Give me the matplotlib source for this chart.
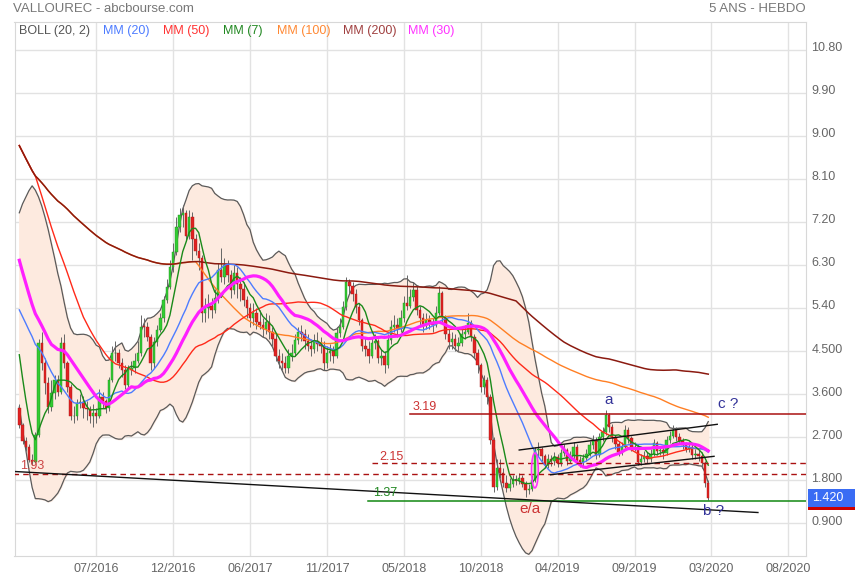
import numpy as np
import pandas as pd
import matplotlib
matplotlib.use("Agg")
import matplotlib.pyplot as plt
import matplotlib.transforms as mtrans
from matplotlib.patches import Ellipse, Rectangle

plt.rcParams['font.family'] = ['Liberation Sans', 'DejaVu Sans']

# weekly closes before the visible window (only feed the moving averages)
pre_closes = [15.0, 14.9, 14.7, 14.5, 14.2, 14.0, 13.8, 13.6, 13.4, 13.2, 13.0, 12.8, 12.6, 12.3, 12.0,
              9.9, 9.5, 9.1, 8.8, 8.5, 8.3, 8.1, 7.9, 7.6, 7.05,
              5.4, 5.3, 5.1, 4.9, 6.0, 6.1, 6.2, 6.3, 6.3, 6.3, 6.2, 6.1, 6.05,
              6.0, 5.6, 5.0, 4.4, 3.7, 3.3]

closes = [
    2.95, 2.62, 2.50, 2.22, 2.18, 2.74, 4.66, 4.24, 3.83, 3.33,
    3.62, 3.90, 3.65, 4.66, 4.24, 3.75, 3.13, 3.15, 3.41, 3.43,
    3.30, 3.28, 3.13, 3.20, 3.15, 3.54, 3.45, 3.30, 3.89, 4.45,
    4.45, 4.25, 4.10, 3.79, 4.10, 4.15, 4.30, 4.45, 5.01, 5.00,
    4.80, 4.24, 4.69, 4.94, 5.20, 5.57, 5.84, 6.26, 6.57, 7.10,
    7.35, 7.38, 6.90, 7.30, 6.85, 6.60, 6.45, 5.29, 5.40, 5.45,
    5.35, 5.60, 6.20, 6.05, 6.30, 6.10, 5.78, 6.13, 5.90, 5.80,
    5.57, 5.40, 5.20, 5.30, 5.10, 5.05, 4.95, 5.10, 4.90, 4.75,
    4.40, 4.30, 4.25, 4.15, 4.40, 4.45, 4.73, 4.90, 4.85, 4.70,
    4.60, 4.55, 4.70, 4.65, 4.60, 4.24, 4.45, 4.50, 4.40, 4.87,
    5.00, 5.42, 5.94, 5.85, 5.70, 5.42, 5.15, 4.60, 4.55, 4.40,
    4.66, 4.70, 4.35, 4.40, 4.20, 4.73, 5.00, 5.05, 4.95, 5.20,
    5.50, 5.45, 5.63, 5.78, 5.36, 5.20, 5.05, 5.15, 5.10, 5.05,
    5.30, 5.71, 5.20, 4.85, 4.69, 4.75, 4.60, 4.66, 4.85, 4.90,
    5.08, 4.80, 4.45, 4.20, 3.75, 3.90, 3.54, 2.64, 1.65, 2.05,
    1.95, 1.74, 1.63, 1.72, 1.80, 1.78, 1.85, 1.72, 1.59, 1.62,
    1.80, 2.43, 2.45, 2.30, 2.11, 2.25, 2.20, 2.28, 2.15, 2.36,
    2.43, 2.20, 2.30, 2.50, 2.22, 2.18, 2.26, 2.35, 2.53, 2.64,
    2.32, 2.70, 2.80, 3.16, 2.91, 2.70, 2.55, 2.39, 2.50, 2.85,
    2.68, 2.47, 2.50, 2.18, 2.25, 2.30, 2.25, 2.35, 2.57, 2.40,
    2.42, 2.36, 2.64, 2.72, 2.85, 2.70, 2.62, 2.53, 2.45, 2.50,
    2.32, 2.35, 2.30, 2.15, 1.74, 1.42]

highs = [
    3.40, 3.00, 2.70, 2.55, 2.35, 2.80, 4.75, 4.90, 4.35, 3.95,
    3.90, 4.00, 4.00, 4.80, 4.85, 4.30, 3.80, 3.35, 3.50, 3.60,
    3.55, 3.45, 3.35, 3.40, 3.30, 3.70, 3.65, 3.50, 3.95, 4.60,
    4.70, 4.55, 4.35, 4.20, 4.20, 4.30, 4.45, 4.70, 5.25, 5.20,
    5.10, 4.85, 4.80, 5.05, 5.30, 5.65, 6.00, 6.40, 6.75, 7.30,
    7.50, 7.55, 7.45, 7.45, 7.40, 6.95, 6.75, 6.50, 5.60, 5.70,
    5.60, 5.80, 6.35, 6.65, 6.45, 6.40, 6.20, 6.30, 6.25, 6.05,
    5.95, 5.65, 5.50, 5.50, 5.40, 5.35, 5.20, 5.30, 5.25, 5.00,
    4.85, 4.55, 4.45, 4.40, 4.55, 4.65, 4.85, 5.00, 5.05, 4.95,
    4.85, 4.75, 4.85, 4.90, 4.80, 4.70, 4.60, 4.65, 4.60, 5.00,
    5.20, 5.55, 6.05, 6.00, 5.95, 5.80, 5.50, 5.20, 4.80, 4.70,
    4.80, 4.85, 4.75, 4.55, 4.50, 4.85, 5.15, 5.25, 5.20, 5.35,
    5.65, 6.10, 5.80, 5.95, 5.85, 5.45, 5.30, 5.30, 5.25, 5.20,
    5.45, 5.85, 5.75, 5.25, 4.95, 4.90, 4.85, 4.80, 5.00, 5.05,
    5.30, 5.15, 4.85, 4.55, 4.25, 4.00, 3.95, 3.60, 2.70, 2.25,
    2.25, 2.05, 1.90, 1.85, 1.90, 1.90, 1.95, 1.90, 1.78, 1.72,
    1.90, 2.50, 2.60, 2.50, 2.35, 2.35, 2.32, 2.38, 2.35, 2.45,
    2.55, 2.48, 2.40, 2.60, 2.55, 2.30, 2.35, 2.45, 2.62, 2.75,
    2.70, 2.78, 2.92, 3.26, 3.20, 2.98, 2.75, 2.62, 2.60, 2.95,
    2.92, 2.72, 2.60, 2.55, 2.35, 2.40, 2.38, 2.45, 2.65, 2.62,
    2.52, 2.50, 2.72, 2.82, 2.95, 2.90, 2.78, 2.68, 2.60, 2.60,
    2.55, 2.45, 2.42, 2.38, 2.20, 1.80]

lows = [
    2.88, 2.55, 2.40, 2.18, 2.12, 2.15, 2.70, 4.10, 3.60, 3.20,
    3.25, 3.50, 3.55, 3.60, 4.15, 3.65, 3.05, 3.00, 3.05, 3.30,
    3.10, 3.05, 3.00, 2.90, 3.00, 3.10, 3.30, 3.20, 3.25, 3.85,
    4.30, 4.15, 3.95, 3.70, 3.75, 4.00, 4.05, 4.25, 4.40, 4.80,
    4.70, 4.10, 4.15, 4.60, 4.90, 5.10, 5.50, 5.80, 6.15, 6.50,
    7.00, 7.10, 6.80, 6.85, 6.40, 6.50, 6.20, 5.10, 5.10, 5.20,
    5.20, 5.30, 5.50, 5.95, 5.90, 5.95, 5.60, 5.70, 5.60, 5.55,
    5.45, 5.20, 5.00, 5.05, 4.95, 4.95, 4.80, 4.85, 4.75, 4.60,
    4.30, 4.15, 4.10, 4.05, 4.05, 4.30, 4.40, 4.65, 4.70, 4.55,
    4.50, 4.40, 4.45, 4.50, 4.45, 4.10, 4.15, 4.30, 4.25, 4.35,
    4.80, 4.95, 5.35, 5.70, 5.55, 5.30, 5.05, 4.50, 4.40, 4.25,
    4.35, 4.55, 4.25, 4.20, 4.05, 4.15, 4.65, 4.90, 4.80, 4.90,
    5.10, 5.35, 5.40, 5.55, 5.25, 5.05, 4.90, 4.95, 4.95, 4.90,
    5.00, 5.25, 5.10, 4.75, 4.55, 4.55, 4.50, 4.50, 4.60, 4.75,
    4.85, 4.70, 4.35, 4.05, 3.65, 3.60, 3.40, 2.55, 1.55, 1.60,
    1.85, 1.65, 1.55, 1.58, 1.65, 1.70, 1.72, 1.65, 1.45, 1.50,
    1.58, 1.75, 2.30, 2.20, 2.05, 2.05, 2.10, 2.12, 2.08, 2.10,
    2.30, 2.12, 2.15, 2.25, 2.15, 2.08, 2.10, 2.20, 2.30, 2.45,
    2.25, 2.28, 2.62, 2.75, 2.80, 2.60, 2.45, 2.30, 2.32, 2.45,
    2.58, 2.40, 2.40, 2.12, 2.12, 2.18, 2.15, 2.18, 2.30, 2.32,
    2.32, 2.25, 2.32, 2.58, 2.68, 2.62, 2.55, 2.45, 2.38, 2.38,
    2.25, 2.25, 2.20, 2.05, 1.65, 1.38]

tick_labels = ["07/2016", "12/2016", "06/2017", "11/2017", "05/2018",
               "10/2018", "04/2019", "09/2019", "03/2020", "08/2020"]
y_ticks = [0.9, 1.8, 2.7, 3.6, 4.5, 5.4, 6.3, 7.2, 8.1, 9.0, 9.9, 10.8]
y_tick_labels = ["0.900", "1.800", "2.700", "3.600", "4.500", "5.40",
                 "6.30", "7.20", "8.10", "9.00", "9.90", "10.80"]

last_price = 1.42
level_319 = 3.19
level_215 = 2.15
level_193 = 1.93
level_137 = 1.37

n_pre = len(pre_closes)
full = pd.Series(pre_closes + closes)
x = np.arange(len(closes))
# weekly open taken as the previous close
opens = [pre_closes[-1]] + closes[:-1]


def mm(n):
    return full.rolling(n, min_periods=1).mean().to_numpy()[n_pre:]


boll_mid = mm(20)
boll_sd = full.rolling(20, min_periods=1).std(ddof=0).to_numpy()[n_pre:]
boll_up = boll_mid + 2 * boll_sd
boll_dn = boll_mid - 2 * boll_sd

W, H = 855, 580
fig = plt.figure(figsize=(W / 100, H / 100), dpi=100)
ax = fig.add_axes([14.5 / W, 1 - 556 / H, (806 - 14.5) / W, (556 - 22) / H])
ax.set_xlim(-1.5, 245.5)
ax.set_ylim(0.21, 11.385)

for s in ax.spines.values():
    s.set_color("#d8d8d8")
ax.grid(True, color="#e2e2e2", lw=1)
ax.set_axisbelow(True)

ax.set_xticks([24 * k for k in range(1, 11)])
ax.set_xticklabels(tick_labels)
ax.yaxis.tick_right()
ax.set_yticks(y_ticks)
ax.set_yticklabels(y_tick_labels)
ax.tick_params(length=0, colors="#666666", labelsize=9)
ax.tick_params(axis="x", pad=5)
ax.tick_params(axis="y", pad=4)
lift = mtrans.ScaledTranslation(0, 3 / 100, fig.dpi_scale_trans)
for lab in ax.get_yticklabels():
    lab.set_transform(lab.get_transform() + lift)

# bollinger
ax.fill_between(x, boll_dn, boll_up, color="#fdeadf", zorder=1)
ax.plot(x, boll_up, color="#5a5a5a", lw=0.9, zorder=2)
ax.plot(x, boll_dn, color="#5a5a5a", lw=0.9, zorder=2)

# candles
for i in x:
    o, c = opens[i], closes[i]
    up = c >= o
    ax.vlines(i, lows[i], highs[i], color="#666666", lw=0.7, zorder=3)
    ax.bar(i, max(abs(c - o), 0.015), bottom=min(o, c), width=0.75,
           color="#33cc33" if up else "#e02222",
           edgecolor="#1e8c1e" if up else "#a81818", lw=0.3, zorder=4)

# moving averages
ax.plot(x, mm(100), color="#ff7f24", lw=1.0, zorder=5)
ax.plot(x, mm(50), color="#ff2a1a", lw=1.0, zorder=5)
ax.plot(x, mm(200), color="#8b1a10", lw=1.1, zorder=5)
ax.plot(x, mm(20), color="#4d7cff", lw=1.0, zorder=5)
ax.plot(x, mm(7), color="#1a8a1a", lw=1.0, zorder=5)
ax.plot(x, mm(30), color="#ff1fff", lw=2.3, zorder=6)

# drawn levels and trend lines
xr = 250
ax.plot([121.9, xr], [level_319, level_319], color="#aa1111", lw=1.1, zorder=7)
ax.plot([110, xr], [level_215, level_215], color="#aa1111", lw=1.0, ls=(0, (4, 3)), zorder=7)
ax.plot([-2, xr], [level_193, level_193], color="#aa1111", lw=1.0, ls=(0, (4, 3)), zorder=7)
ax.plot([108.8, xr], [level_137, level_137], color="#118811", lw=1.1, zorder=7)
ax.plot([-1.34, 230.5], [1.978, 1.120], color="#111111", lw=1.0, zorder=7)
ax.plot([156.0, 217.8], [2.428, 2.966], color="#111111", lw=1.0, zorder=7)
ax.plot([165.8, 216.8], [1.911, 2.296], color="#111111", lw=1.0, zorder=7)
ax.add_patch(Ellipse((160.9, 2.0), 2.1, 0.73, fill=False, edgecolor="#ff33ff", lw=1.2, zorder=7))

ax.text(122.8, 3.33, "3.19", color="#cc3333", fontsize=9, va="center", zorder=8)
ax.text(112.5, 2.28, "2.15", color="#cc3333", fontsize=9, va="center", zorder=8)
ax.text(0.2, 2.09, "1.93", color="#cc4444", fontsize=9, va="center", zorder=8)
ax.text(110.4, 1.53, "1.37", color="#228822", fontsize=9, va="center", zorder=8)
ax.text(184, 3.47, "a", color="#333399", fontsize=11, ha="center", va="center", zorder=8)
ax.text(221.1, 3.39, "c ?", color="#333399", fontsize=11, ha="center", va="center", zorder=8)
ax.text(216.8, 1.15, "b ?", color="#333399", fontsize=11, ha="center", va="center", zorder=8)
ax.text(159.3, 1.19, "e/a", color="#cc3333", fontsize=11, ha="center", va="center", zorder=8)

# header texts
fig.text(13 / W, 1 - 9 / H, "VALLOUREC - abcbourse.com", color="#777777", fontsize=9.5, va="center")
fig.text(806 / W, 1 - 9 / H, "5 ANS - HEBDO", color="#777777", fontsize=9.5, va="center", ha="right")

legend = [("BOLL (20, 2)", "#555555", 19), ("MM (20)", "#4d7cff", 103),
          ("MM (50)", "#ff3333", 163), ("MM (7)", "#228822", 223),
          ("MM (100)", "#ff8833", 277), ("MM (200)", "#a04040", 343),
          ("MM (30)", "#ff33ff", 408)]
for label, col, px in legend:
    fig.text(px / W, 1 - 31 / H, label, color=col, fontsize=9, va="center")

# last price tag
fig.add_artist(Rectangle((808 / W, 1 - 507 / H), 47 / W, 18 / H, transform=fig.transFigure,
                         facecolor="#3a6cf4", edgecolor="none"))
fig.add_artist(Rectangle((808 / W, 1 - 509.5 / H), 47 / W, 2.5 / H, transform=fig.transFigure,
                         facecolor="#cc0000", edgecolor="none"))
fig.text(812 / W, 1 - 498 / H, "%.3f" % last_price, color="white", fontsize=9, va="center")

fig.savefig("out.png", dpi=100)
